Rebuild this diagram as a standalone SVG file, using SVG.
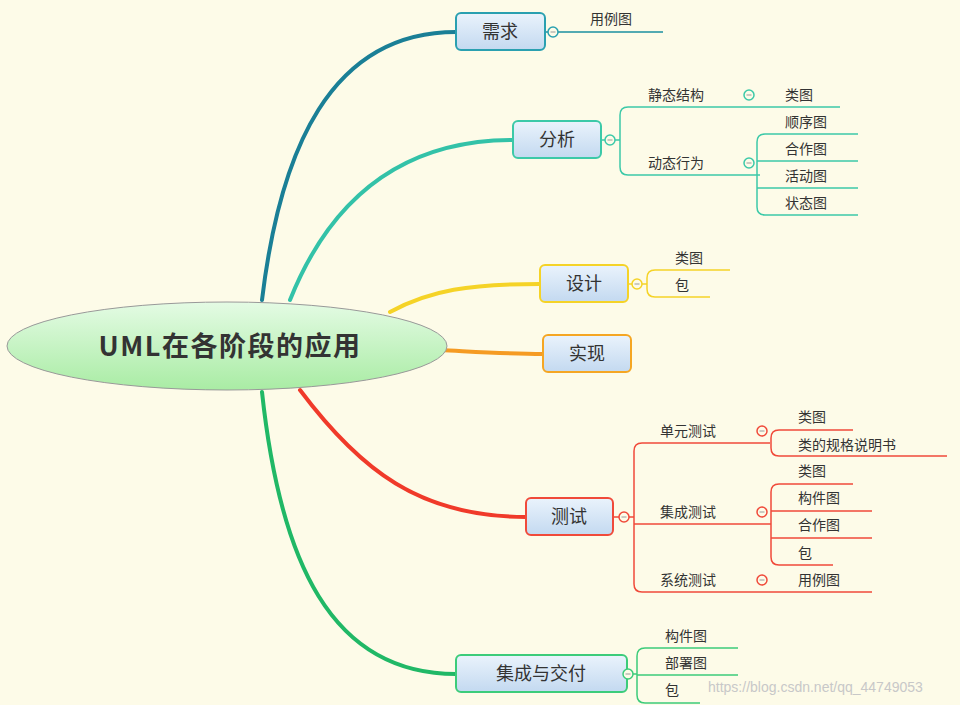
<svg xmlns="http://www.w3.org/2000/svg" width="960" height="705" viewBox="0 0 960 705">
<defs>
<linearGradient id="gb" x1="0" y1="0" x2="0" y2="1"><stop offset="0" stop-color="#eaf3fc"/><stop offset="1" stop-color="#c3d9f0"/></linearGradient>
<linearGradient id="gg" x1="0" y1="0" x2="0" y2="1"><stop offset="0" stop-color="#e4fbe4"/><stop offset="1" stop-color="#a9eca4"/></linearGradient>
<style>
text{font-family:"Noto Sans CJK SC","Liberation Sans",sans-serif;fill:#333}
.n{font-size:18px;text-anchor:middle}
.s{font-size:14px}
.box{fill:url(#gb);stroke-width:2}
.c{fill:#fdfbe8;stroke-width:1.5}
.l{fill:none;stroke-width:1.5}
.b{fill:none;stroke-width:4;stroke-linecap:round}
.m{stroke:#999;stroke-width:1.2}
</style>
</defs>
<rect width="960" height="705" fill="#fdfbe8"/>
<g id="connectors">
<path class="b" stroke="#1a7f96" d="M262 300 C280 150 330 32 456 32"/>
<path class="b" stroke="#33c2a8" d="M290 300 C330 200 400 140 513 140"/>
<path class="b" stroke="#f5d327" d="M390 312 C430 290 470 284 540 284"/>
<path class="b" stroke="#f59b23" d="M440 350 C480 352 510 354 543 354"/>
<path class="b" stroke="#f03a2a" d="M300 390 C360 470 420 517 526 517"/>
<path class="b" stroke="#20b866" d="M262 392 C280 560 330 674 456 674"/>
<g stroke="#1a8fa0"><path class="l" d="M545 32 H663"/></g>
<g stroke="#3cc9a8">
<path class="l" d="M601 140 H620 M840 107 H628 Q620 107 620 115 V167 Q620 175 628 175 H760"/>
<path class="l" d="M858 134 H765 Q757 134 757 142 V207 Q757 215 765 215 H858 M757 161 H858 M757 188 H858"/>
</g>
<g stroke="#f5d327">
<path class="l" d="M628 284 H647 M730 270 H655 Q647 270 647 278 V289 Q647 297 655 297 H710"/>
</g>
<g stroke="#f04a3a">
<path class="l" d="M613 517 H634 M770 443 H642 Q634 443 634 451 V584 Q634 592 642 592 H872 M634 524 H771"/>
<path class="l" d="M853 430 H779 Q771 430 771 438 V448 Q771 456 779 456 H947"/>
<path class="l" d="M853 484 H779 Q771 484 771 492 V557 Q771 565 779 565 H833 M771 511 H872 M771 538 H872"/>
</g>
<g stroke="#3ccc7a">
<path class="l" d="M627 674 H637 M738 648 H645 Q637 648 637 656 V695 Q637 703 645 703 H700 M637 675 H738"/>
</g>
</g>
<g id="root">
<ellipse cx="227" cy="346" rx="220" ry="44" fill="url(#gg)" stroke="#999" stroke-width="1"/>
<text x="230" y="356" font-size="27" font-weight="bold" text-anchor="middle" letter-spacing="1.5">UML在各阶段的应用</text>
</g>
<g id="n1"><rect class="box" stroke="#2aa0b0" x="456" y="13" width="89" height="37" rx="5"/><text class="n" x="500" y="38">需求</text>
<circle class="c" stroke="#2aa0b0" cx="553" cy="32" r="5"/><text class="s" x="590" y="24">用例图</text></g>
<g id="n2"><rect class="box" stroke="#3cc9a8" x="513" y="121" width="88" height="37" rx="5"/><text class="n" x="557" y="146">分析</text>
<circle class="c" stroke="#3cc9a8" cx="610" cy="140" r="5"/>
<text class="s" x="648" y="100">静态结构</text><circle class="c" stroke="#3cc9a8" cx="749" cy="95" r="5"/><text class="s" x="785" y="100">类图</text>
<text class="s" x="648" y="168">动态行为</text><circle class="c" stroke="#3cc9a8" cx="749" cy="163" r="5"/>
<text class="s" x="785" y="127">顺序图</text><text class="s" x="785" y="154">合作图</text><text class="s" x="785" y="181">活动图</text><text class="s" x="785" y="208">状态图</text></g>
<g id="n3"><rect class="box" stroke="#f5d327" x="540" y="265" width="88" height="37" rx="5"/><text class="n" x="584" y="290">设计</text>
<circle class="c" stroke="#f5d327" cx="637" cy="284" r="5"/><text class="s" x="675" y="263">类图</text><text class="s" x="675" y="290">包</text></g>
<g id="n4"><rect class="box" stroke="#f5a623" x="543" y="335" width="88" height="37" rx="5"/><text class="n" x="587" y="360">实现</text></g>
<g id="n5"><rect class="box" stroke="#f04a3a" x="526" y="498" width="87" height="37" rx="5"/><text class="n" x="569" y="523">测试</text>
<circle class="c" stroke="#f04a3a" cx="624" cy="517" r="5"/>
<text class="s" x="660" y="436">单元测试</text><circle class="c" stroke="#f04a3a" cx="762" cy="431" r="5"/>
<text class="s" x="798" y="422">类图</text><text class="s" x="798" y="450">类的规格说明书</text>
<text class="s" x="660" y="517">集成测试</text><circle class="c" stroke="#f04a3a" cx="762" cy="512" r="5"/>
<text class="s" x="798" y="476">类图</text><text class="s" x="798" y="503">构件图</text><text class="s" x="798" y="530">合作图</text><text class="s" x="798" y="558">包</text>
<text class="s" x="660" y="585">系统测试</text><circle class="c" stroke="#f04a3a" cx="762" cy="580" r="5"/><text class="s" x="798" y="585">用例图</text></g>
<g id="n6"><rect class="box" stroke="#3ccc7a" x="456" y="655" width="171" height="37" rx="5"/><text class="n" x="541" y="680">集成与交付</text>
<circle class="c" stroke="#3ccc7a" cx="628" cy="674" r="5"/>
<text class="s" x="665" y="641">构件图</text><text class="s" x="665" y="668">部署图</text><text class="s" x="665" y="695">包</text></g>
<path class="m" d="M550.5 32H555.5M607.5 140H612.5M746.5 95H751.5M746.5 163H751.5M634.5 284H639.5M621.5 517H626.5M759.5 431H764.5M759.5 512H764.5M759.5 580H764.5M625.5 674H630.5"/>
<text x="708" y="692" font-size="14" style="fill:#c8c8c8;font-family:'Liberation Sans',sans-serif">https://blog.csdn.net/qq_44749053</text>
</svg>
